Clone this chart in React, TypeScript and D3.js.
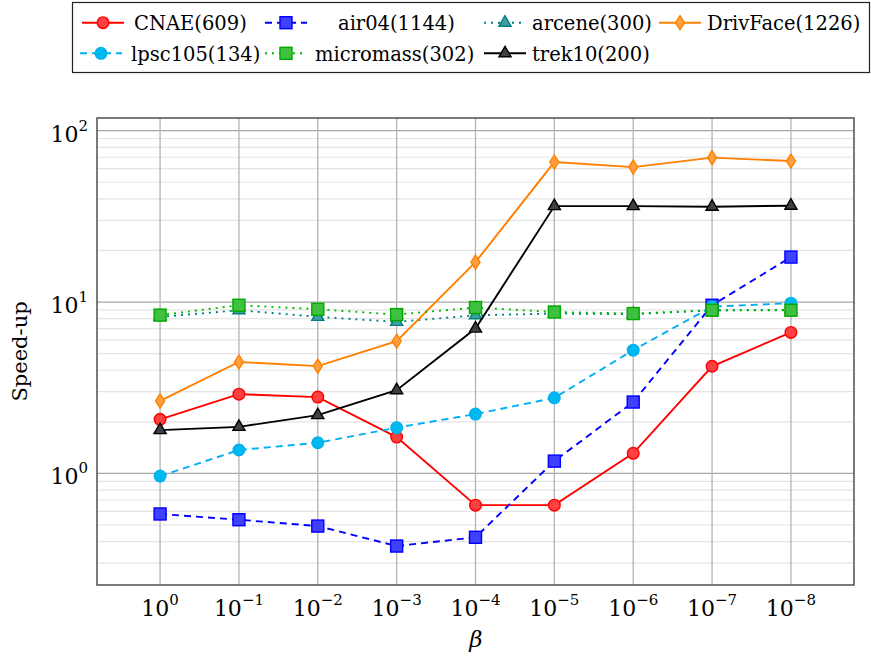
import * as d3 from 'd3';

// beta values as powers of ten (x categories)
const betaExponents = [0, -1, -2, -3, -4, -5, -6, -7, -8];
const yTickExponents = [0, 1, 2];

// speed-up values
const cnae = [2.07, 2.9, 2.79, 1.63, 0.653, 0.653, 1.31, 4.22, 6.65];
const air04 = [0.58, 0.537, 0.493, 0.377, 0.424, 1.18, 2.61, 9.58, 18.3];
const arcene = [8.19, 8.96, 8.2, 7.66, 8.37, 8.57, 8.5, 8.95, 9.0];
const drivFace = [2.65, 4.47, 4.23, 5.91, 17.1, 65.6, 61.3, 69.6, 66.5];
const lpsc105 = [0.965, 1.37, 1.51, 1.85, 2.22, 2.76, 5.24, 9.4, 9.85];
const micromass = [8.39, 9.58, 9.08, 8.45, 9.29, 8.75, 8.57, 8.96, 8.96];
const trek10 = [1.79, 1.87, 2.19, 3.06, 7.0, 36.3, 36.3, 36.0, 36.5];

const seriesNames = ['CNAE(609)', 'air04(1144)', 'arcene(300)', 'DrivFace(1226)', 'lpsc105(134)', 'micromass(302)', 'trek10(200)'];
const seriesValues = [cnae, air04, arcene, drivFace, lpsc105, micromass, trek10];

type Mark = 'circle' | 'square' | 'triangle' | 'diamond';
interface Style { stroke: string; fill: string; markStroke: string; dash: string; mark: Mark }

const styles: Style[] = [
    { stroke: '#ff0000', fill: '#ff4040', markStroke: '#ff0000', dash: '', mark: 'circle' },
    { stroke: '#0000ff', fill: '#4040ff', markStroke: '#0000ff', dash: '7 5', mark: 'square' },
    { stroke: '#008080', fill: '#40a0a0', markStroke: '#008080', dash: '2 5', mark: 'triangle' },
    { stroke: '#ff8000', fill: '#ffa040', markStroke: '#ff8000', dash: '', mark: 'diamond' },
    { stroke: '#00b0f0', fill: '#00b8f0', markStroke: '#00b0f0', dash: '7 5', mark: 'circle' },
    { stroke: '#00bb00', fill: '#40c040', markStroke: '#00a800', dash: '2 5', mark: 'square' },
    { stroke: '#000000', fill: '#404040', markStroke: '#000000', dash: '', mark: 'triangle' },
];

// legend layout: [row, marker centre x, text x]
const legendLayout: [number, number, number][] = [
    [0, 103, 134], [0, 286, 338], [0, 505, 532], [0, 680, 707],
    [1, 101, 131], [1, 286, 315], [1, 505, 532],
];

const font = "'DejaVu Serif', serif";
const W = 871;
const H = 656;
const plot = { left: 97, right: 854, top: 118, bottom: 585 };

const x = d3.scaleLinear().domain([-0.8, 8.8]).range([plot.left, plot.right]);
const y = d3.scaleLog().domain([Math.pow(10, -0.651), Math.pow(10, 2.074)]).range([plot.bottom, plot.top]);

const minorTicks: number[] = [];
for (let e = -1; e <= 2; e++) {
    for (let m = 2; m <= 9; m++) {
        const v = m * Math.pow(10, e);
        if (v > y.domain()[0] && v < y.domain()[1]) minorTicks.push(v);
    }
}

const Marker = ({ cx, cy, s }: { cx: number; cy: number; s: Style }) => {
    const common = { fill: s.fill, stroke: s.markStroke, strokeWidth: 1.4 };
    if (s.mark === 'circle') return <circle cx={cx} cy={cy} r={5.8} {...common} />;
    if (s.mark === 'square') return <rect x={cx - 6} y={cy - 6} width={12} height={12} {...common} />;
    if (s.mark === 'triangle') {
        const r = 7;
        return <polygon points={`${cx},${cy - r} ${cx - 0.866 * r},${cy + 0.5 * r} ${cx + 0.866 * r},${cy + 0.5 * r}`} {...common} />;
    }
    return <polygon points={`${cx},${cy - 7} ${cx + 4.5},${cy} ${cx},${cy + 7} ${cx - 4.5},${cy}`} {...common} />;
};

const Pow10 = ({ e, ...rest }: { e: number; [k: string]: any }) => (
    <text fontSize={22} fill="#000" {...rest}>
        <tspan>10</tspan>
        <tspan dy={-11} fontSize={15}>{e < 0 ? `\u2212${-e}` : `${e}`}</tspan>
    </text>
);

const App = () => {
    const line = d3
        .line<number>()
        .x((_, i) => x(i))
        .y(d => y(d));

    return (
        <svg width={W} height={H} fontFamily={font} style={{ position: 'absolute', left: 0, top: 0 }}>
            <rect width={W} height={H} fill="#fff" />

            {/* minor grid */}
            {minorTicks.map(v => (
                <line key={'mg' + v} x1={plot.left} x2={plot.right} y1={y(v)} y2={y(v)} stroke="#e4e4e4" strokeWidth={1.2} />
            ))}
            {/* major grid */}
            {yTickExponents.map(e => (
                <line key={'yg' + e} x1={plot.left} x2={plot.right} y1={y(Math.pow(10, e))} y2={y(Math.pow(10, e))} stroke="#a8a8a8" strokeWidth={1.3} />
            ))}
            {betaExponents.map((e, i) => (
                <line key={'xg' + e} x1={x(i)} x2={x(i)} y1={plot.top} y2={plot.bottom} stroke="#b4b4b4" strokeWidth={1.3} />
            ))}

            {/* series */}
            {seriesValues.map((vals, k) => (
                <g key={seriesNames[k]}>
                    <path d={line(vals) ?? ''} fill="none" stroke={styles[k].stroke} strokeWidth={1.9} strokeDasharray={styles[k].dash} />
                    {vals.map((v, i) => (
                        <Marker key={i} cx={x(i)} cy={y(v)} s={styles[k]} />
                    ))}
                </g>
            ))}

            {/* frame */}
            <rect x={plot.left} y={plot.top} width={plot.right - plot.left} height={plot.bottom - plot.top} fill="none" stroke="#444" strokeWidth={1.4} />

            {/* tick labels */}
            {yTickExponents.map(e => (
                <Pow10 key={'yl' + e} e={e} x={88} y={y(Math.pow(10, e)) + 11} textAnchor="end" />
            ))}
            {betaExponents.map((e, i) => (
                <Pow10 key={'xl' + e} e={e} x={x(i)} y={616} textAnchor="middle" />
            ))}

            {/* axis titles */}
            <text x={476} y={647} textAnchor="middle" fontStyle="italic" fontSize={23}>β</text>
            <text transform={`translate(27,${(plot.top + plot.bottom) / 2}) rotate(-90)`} textAnchor="middle" fontSize={21}>
                Speed-up
            </text>

            {/* legend */}
            <rect x={72.5} y={2.5} width={797} height={70} fill="#fff" stroke="#222" strokeWidth={1.2} />
            {seriesNames.map((name, k) => {
                const [row, mx, tx] = legendLayout[k];
                const cy = row === 0 ? 22.7 : 53.3;
                const s = styles[k];
                return (
                    <g key={'lg' + name}>
                        <line x1={mx - 21} x2={mx + 21} y1={cy} y2={cy} stroke={s.stroke} strokeWidth={1.9} strokeDasharray={s.dash} />
                        <Marker cx={mx} cy={cy} s={s} />
                        <text x={tx} y={cy + 7.5} fontSize={19.5}>{name}</text>
                    </g>
                );
            })}
        </svg>
    );
};

export default App;
